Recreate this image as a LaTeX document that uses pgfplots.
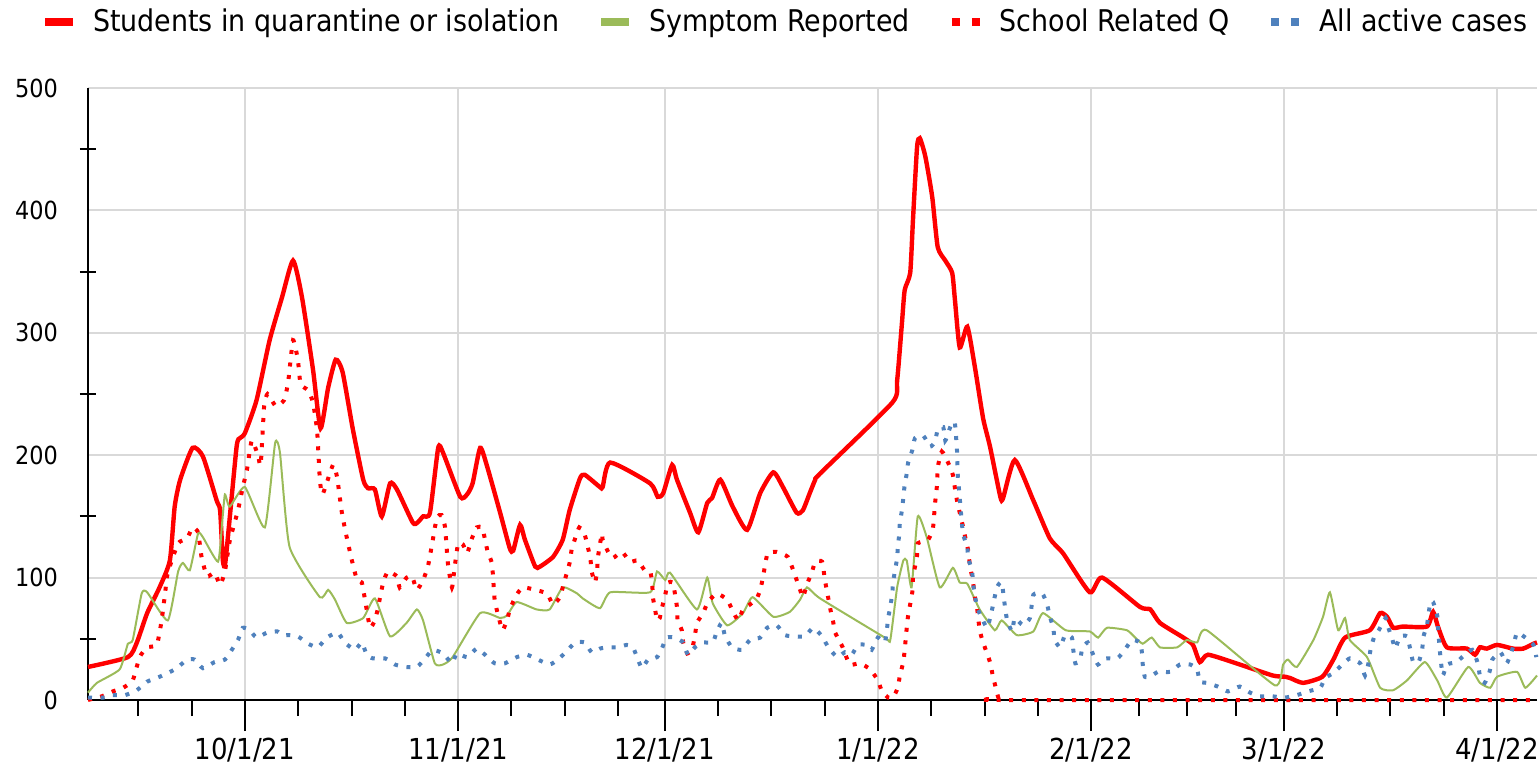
\documentclass[border=0pt]{standalone}
\usepackage{fontspec}
\setmainfont{DejaVu Sans Condensed}
\usepackage{pgfplots}
\pgfplotsset{compat=1.18}
\definecolor{qred}{HTML}{FF0000}
\definecolor{sgreen}{HTML}{9BBB59}
\definecolor{ablue}{HTML}{4F81BD}
\definecolor{gridgray}{HTML}{D9D9D9}
\begin{document}
\begin{tikzpicture}
\begin{axis}[
  scale only axis, width=724.5bp, height=306bp,
  xmin=-22.8, xmax=187.8, ymin=0, ymax=500,
  axis x line*=bottom, axis y line*=left,
  axis line style={-, line width=1bp, black},
  xtick={0,31,61,92,123,151,182},
  xticklabels={10/1/21,11/1/21,12/1/21,1/1/22,2/1/22,3/1/22,4/1/22},
  minor xtick={-15.5,-7.75,7.75,15.5,23.25,38.75,46.5,54.25,68.75,76.5,84.25,99.75,107.5,115.25,130,137,144,158.75,166.5,174.25},
  ytick={0,100,...,500},
  minor ytick={50,150,...,450},
  tick align=outside,
  major tick length=15.5bp, minor tick length=8bp,
  tick style={black, line width=1bp},
  every major y tick/.append style={draw=none},
  every minor y tick/.append style={xshift=4bp},
  xmajorgrids, ymajorgrids,
  grid style={gridgray, line width=1bp},
  clip=false,
  x tick label style={font=\fontsize{14.5}{16}\selectfont},
  y tick label style={font=\fontsize{12.5}{14}\selectfont, xshift=4bp},
  /pgf/number format/assume math mode=true,
  legend columns=4,
  legend style={draw=none, fill=none, at={(-0.0324,1.108)}, anchor=west,
    inner sep=0pt, outer sep=0pt, font=\fontsize{15}{17}\selectfont,
    nodes={inner sep=1bp},
    /tikz/every odd column/.append style={column sep=7bp},
    /tikz/every even column/.append style={column sep=18bp}},
]
% Students in quarantine or isolation
\addplot[qred, line width=2.2bp, smooth, tension=0.35,
  legend image code/.code={\draw[qred, line width=4bp] (0bp,0bp) -- (14bp,0bp);}]
coordinates {
(-22.8,27) (-17.0,35) (-15.7,47) (-14.2,71) (-12.4,92) (-10.9,114) (-10.2,158) (-9.4,180)
(-7.6,206) (-6.1,199) (-4.1,163) (-3.6,155) (-3.2,114) (-2.9,110) (-2.5,131) (-1.2,207)
(-0.7,214) (0,218) (1.7,245) (3.6,294) (5.4,329) (7.0,359) (8.3,329) (9.9,270) (11.0,222)
(12.1,255) (13.2,278) (14.2,268) (15.7,221) (17.2,180) (17.9,173) (18.9,172) (19.9,150)
(21.1,177) (22.1,172) (24.4,145) (25.1,145) (25.9,150) (26.9,153) (28.1,206) (28.8,202)
(31.3,166) (32.3,168) (33.1,177) (34.2,206) (35.2,191) (37.1,153) (38.5,124) (39.0,122)
(40.0,143) (40.7,131) (42.2,109) (42.9,109) (44.8,117) (46.2,131) (47.2,155) (48.7,181)
(49.4,184) (51.6,174) (52.0,174) (53.1,194) (58.9,177) (60.0,166) (60.8,169) (62.1,192)
(62.8,180) (64.7,153) (65.9,137) (67.2,161) (67.9,165) (69.1,180) (70.9,158) (73.0,139)
(74.9,169) (76.8,186) (78.2,174) (80.2,153) (81.1,155) (82.1,169) (82.9,180) (83.6,185)
(94.1,243) (94.8,261) (95.5,308) (95.9,335) (96.7,349) (97.1,392) (97.7,452) (98.1,459)
(98.9,444) (99.9,411) (100.7,370) (101.8,359) (102.8,349) (103.2,327) (103.9,288) (105.0,305)
(106.1,272) (107.3,230) (108.3,207) (109.8,166) (110.2,165) (111.9,196) (114.6,163) (117.0,132)
(118.9,120) (122.8,88) (124.6,100) (130.1,76) (131.6,74) (133.0,63) (136.4,51) (137.8,45)
(138.8,31) (140.0,37) (144.6,29) (149.4,20) (151.2,19) (151.9,18) (153.8,14) (156.6,19)
(158.2,33) (159.9,51) (163.5,57) (165.0,71) (166.0,68) (166.9,59) (168.3,60) (171.8,60)
(172.7,72) (173.4,60) (174.7,43) (177.6,42) (178.8,37) (179.5,43) (180.5,42) (182.0,45)
(184.3,42) (185.8,42) (187.3,46) (187.8,47)
};
\addlegendentry{Students in quarantine or isolation}
% Symptom Reported
\addplot[sgreen, line width=1bp, smooth, tension=0.3,
  legend image code/.code={\draw[sgreen, line width=4bp] (0bp,0bp) -- (14bp,0bp);}]
coordinates {
(-22.8,6) (-21.5,14) (-18.2,25) (-17.0,46) (-16.3,49) (-15.0,87) (-14.2,88) (-11.2,65)
(-9.7,105) (-9.0,112) (-8.0,106) (-6.8,136) (-6.1,133) (-3.9,113) (-3.3,145) (-2.9,168)
(-2.2,158) (0,174) (2.9,141) (4.4,210) (5.1,202) (6.5,125) (10.9,84) (12.1,90) (13.1,82)
(14.8,63) (17.2,67) (18.9,83) (21.1,52) (23.5,63) (25.0,74) (25.9,65) (27.6,30) (28.8,29)
(30.2,35) (34.2,71) (37.1,67) (38.1,69) (39.5,80) (42.4,74) (44.3,74) (46.2,92) (48.3,87)
(49.1,83) (51.6,75) (53.1,88) (58.9,88) (59.9,105) (61.1,98) (61.8,104) (65.7,74) (67.2,100)
(68.0,79) (70.1,61) (72.4,71) (73.8,84) (76.8,68) (79.2,72) (80.7,82) (81.7,92) (83.6,83)
(93.0,51) (93.8,49) (94.8,92) (95.7,114) (96.2,114) (96.9,92) (97.8,150) (99.1,133)
(101.0,92) (102.9,108) (103.9,96) (105.0,95) (106.8,74) (109.0,57) (110.0,65) (112.2,53)
(114.6,56) (116.0,71) (119.3,57) (122.8,56) (124.0,51) (125.3,59) (128.2,57) (129.4,51)
(130.5,46) (131.8,51) (133.0,43) (135.5,43) (136.9,49) (138.4,47) (139.8,57) (149.7,12)
(150.9,29) (151.6,33) (152.9,27) (155.3,49) (156.7,68) (157.7,88) (158.9,57) (159.9,67)
(160.6,49) (163.1,35) (165.0,10) (166.9,8) (168.9,16) (171.5,31) (173.3,16) (174.7,2)
(177.8,27) (179.5,14) (181.0,10) (182.0,19) (184.9,23) (186.1,10) (187.8,20)
};
\addlegendentry{Symptom Reported}
% School Related Q
\addplot[qred, line width=2bp, dash pattern=on 2bp off 4.3bp, smooth, tension=0.3,
  legend image code/.code={\draw[qred, line width=4bp, dash pattern=on 4bp off 6bp] (0bp,0bp) -- (14bp,0bp);}]
coordinates {
(-22.8,0) (-20.8,3) (-19.2,7) (-17.7,10) (-16.3,16) (-15.3,35) (-14.2,43) (-12.8,45)
(-12.1,65) (-11.6,87) (-11.2,104) (-9.7,128) (-8.4,132) (-7.6,141) (-6.8,137) (-6.3,117)
(-5.5,101) (-4.4,104) (-3.6,94) (-2.9,105) (-2.2,130) (-1.0,155) (-0.3,174) (0.3,188)
(1.0,212) (1.9,200) (2.3,192) (2.8,240) (3.3,250) (4.5,240) (5.7,245) (6.3,260) (7.0,294)
(7.7,278) (8.1,258) (9.2,253) (9.9,243) (10.5,220) (10.9,180) (11.3,168) (12.8,192)
(13.4,182) (14.1,153) (14.8,133) (15.6,113) (16.3,98) (17.0,96) (17.7,74) (18.2,59)
(18.9,65) (19.3,74) (20.1,96) (20.8,105) (22.1,101) (22.5,92) (23.5,100) (24.3,101)
(25.0,90) (25.9,98) (26.6,109) (27.2,127) (27.9,149) (28.6,151) (29.1,141) (29.5,112)
(30.1,92) (30.5,109) (31.0,128) (31.7,127) (32.3,120) (33.0,132) (33.7,141) (34.5,141)
(34.9,131) (35.3,121) (35.9,112) (36.1,98) (36.3,82) (36.6,74) (37.1,63) (37.5,57)
(38.2,67) (38.5,74) (39.5,86) (40.4,92) (42.2,90) (43.9,87) (44.8,78) (45.8,84) (46.2,92)
(46.8,104) (47.2,112) (47.5,123) (48.0,132) (48.6,141) (49.4,135) (50.2,116) (50.4,105)
(50.9,96) (51.2,106) (51.3,116) (51.6,127) (51.9,136) (52.0,131) (52.8,121) (53.5,116)
(54.8,121) (56.0,113) (57.1,114) (58.1,106) (58.9,105) (59.2,96) (59.3,84) (59.6,75)
(59.9,65) (60.3,67) (60.6,75) (61.1,86) (61.5,96) (62.2,96) (62.5,87) (62.8,76) (62.9,65)
(63.5,57) (63.7,47) (64.3,38) (65.0,42) (65.4,52) (65.7,63) (66.6,71) (67.3,80) (68.6,87)
(70.1,82) (70.8,74) (71.7,65) (72.4,74) (73.4,78) (74.4,83) (74.9,90) (75.3,100) (75.6,110)
(76.0,120) (77.3,121) (78.9,117) (79.7,106) (80.2,98) (80.7,90) (81.1,84) (81.8,96)
(82.4,104) (82.9,113) (83.9,113) (84.3,98) (84.8,83) (85.1,74) (85.5,64) (85.8,55)
(86.9,43) (87.9,29) (89.4,30) (90.9,25) (92.0,16) (92.6,7) (93.5,2) (94.2,2) (94.9,10)
(95.2,20) (95.7,31) (95.9,41) (96.2,59) (96.4,69) (97.0,88) (97.1,100) (97.4,109) (97.7,118)
(97.8,128) (99.3,131) (100.0,140) (100.3,160) (100.6,176) (100.7,190) (101.3,203)
(102.2,194) (102.9,184) (103.2,173) (103.5,163) (103.9,153) (104.4,141) (104.7,133)
(105.1,123) (105.4,109) (105.8,98) (106.1,84) (106.4,76) (106.8,57) (107.3,47) (108.3,31)
(108.7,20) (109.5,2) (109.8,0) (187.8,0)
};
\addlegendentry{School Related Q}
% All active cases
\addplot[ablue, line width=2bp, dash pattern=on 2bp off 4.3bp, smooth, tension=0.3,
  legend image code/.code={\draw[ablue, line width=4bp, dash pattern=on 4bp off 6bp] (0bp,0bp) -- (14bp,0bp);}]
coordinates {
(-22.8,2) (-20.6,2) (-19.2,4) (-17.4,4) (-15.7,8) (-14.2,15) (-12.8,18) (-11.2,22) (-9.9,26)
(-8.4,33) (-7.3,33) (-6.1,26) (-4.4,31) (-2.9,33) (-1.9,41) (-1.0,49) (-0.3,59) (0.7,57)
(1.7,51) (3.2,55) (4.7,56) (5.5,53) (6.5,53) (7.7,52) (9.2,46) (10.6,43) (11.9,51) (13.5,55)
(14.5,47) (16.0,41) (17.0,47) (17.7,37) (18.6,34) (20.4,34) (21.8,29) (23.3,27) (25.0,27)
(26.2,34) (27.3,41) (28.8,38) (30.1,30) (30.8,38) (32.3,35) (33.7,42) (34.9,37) (36.3,30)
(37.8,30) (39.5,35) (41.0,37) (42.6,33) (44.3,29) (45.5,33) (46.8,40) (48.0,47) (49.4,47)
(50.4,39) (51.6,42) (52.6,43) (54.1,43) (55.5,45) (56.4,43) (57.0,35) (57.7,26) (58.6,33)
(59.9,35) (60.6,42) (61.3,51) (62.5,51) (63.7,47) (64.4,37) (65.4,43) (66.6,47) (68.0,47)
(68.6,56) (69.3,63) (69.8,52) (70.8,43) (72.2,41) (73.4,49) (74.9,51) (75.9,59) (77.3,61)
(78.5,53) (80.0,52) (81.4,52) (82.6,59) (83.9,52) (84.8,43) (86.1,35) (87.2,39) (88.2,37)
(89.1,45) (90.4,45) (91.1,41) (92.0,51) (93.0,47) (93.3,57) (93.5,67) (93.8,76) (94.1,87)
(94.2,96) (94.5,106) (94.8,116) (94.9,125) (95.1,135) (95.2,145) (95.5,155) (95.7,165)
(95.9,176) (96.2,185) (96.4,194) (97.0,204) (97.4,214) (98.6,216) (99.6,207) (100.3,211)
(100.7,221) (101.5,223) (101.8,212) (102.2,218) (102.8,227) (103.2,226) (103.5,204)
(103.6,185) (103.9,165) (104.2,145) (104.4,135) (105.0,125) (105.1,116) (105.7,106)
(105.8,96) (106.1,86) (106.4,76) (107.1,67) (107.9,59) (108.6,74) (109.3,92) (110.0,96)
(110.5,75) (110.8,65) (111.5,56) (111.9,67) (113.1,61) (114.1,67) (114.6,86) (115.9,87)
(116.6,78) (117.0,68) (117.5,59) (117.7,49) (118.5,43) (119.2,53) (120.2,51) (120.4,41)
(120.7,30) (121.4,33) (121.7,42) (122.5,47) (123.3,37) (124.0,29) (125.0,34) (126.8,34)
(127.9,41) (128.9,49) (130.1,47) (130.4,38) (130.5,29) (130.8,19) (131.6,19) (132.7,23)
(134.5,23) (135.9,29) (137.4,29) (138.4,25) (138.8,15) (139.8,14) (141.4,11) (142.9,7)
(144.6,11) (146.1,6) (147.5,3) (149.3,3) (151.2,2) (152.9,4) (154.5,7) (156.3,10) (157.0,18)
(158.2,22) (159.5,29) (160.6,34) (162.1,30) (162.8,20) (163.3,30) (163.6,41) (164.1,51)
(164.8,57) (165.8,67) (166.2,59) (166.8,49) (167.2,42) (167.9,52) (168.9,52) (169.4,41)
(169.8,31) (170.6,31) (171.1,41) (171.3,52) (171.8,61) (172.3,80) (172.7,80) (173.3,69)
(173.4,60) (173.7,39) (174.1,20) (174.7,29) (176.1,31) (177.3,37) (178.4,41) (179.2,30)
(179.5,20) (180.2,14) (180.9,23) (181.3,33) (182.5,39) (183.4,30) (184.3,43) (184.9,55)
(186.1,51) (187.3,45) (187.7,35)
};
\addlegendentry{All active cases}
\end{axis}
\pgfresetboundingbox
\path[use as bounding box] (-44bp,-36bp) rectangle (725.5bp,350bp);
\end{tikzpicture}
\end{document}
